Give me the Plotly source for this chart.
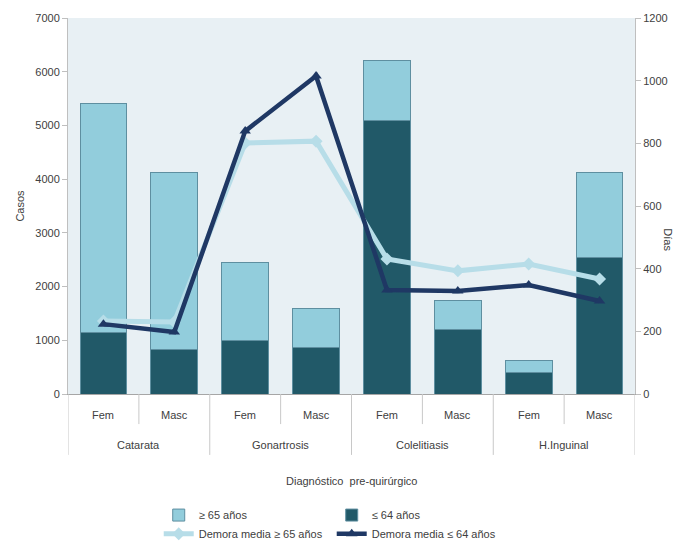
import plotly.graph_objects as go

groups = ["Catarata", "Gonartrosis", "Colelitiasis", "H.Inguinal"]
sexes = ["Fem", "Masc", "Fem", "Masc", "Fem", "Masc", "Fem", "Masc"]

casos_le64 = [1150, 820, 1000, 870, 5100, 1200, 400, 2540]
casos_ge65 = [4250, 3310, 1450, 730, 1100, 550, 230, 1590]
demora_ge65 = [233, 230, 801, 807, 431, 393, 415, 367]
demora_le64 = [223, 198, 839, 1015, 332, 329, 348, 297]

xs = list(range(len(sexes)))
font = "Liberation Sans Narrow, Liberation Sans, sans-serif"
txt = "#404040"
div_col = "#C8C8C8"

fig = go.Figure()
fig.add_trace(go.Bar(x=xs, y=casos_le64, name="≤ 64 años",
                     marker=dict(color="#215968", line=dict(color="#5E8FA0", width=1)),
                     legend="legend", legendrank=2))
fig.add_trace(go.Bar(x=xs, y=casos_ge65, name="≥ 65 años",
                     marker=dict(color="#92CDDC", line=dict(color="#5E8FA0", width=1)),
                     legend="legend", legendrank=1))
fig.add_trace(go.Scatter(x=xs, y=demora_ge65, name="Demora media ≥ 65 años", yaxis="y2",
                         mode="lines+markers", line=dict(color="#B7DDE8", width=5),
                         marker=dict(symbol="diamond", size=10, color="#B7DDE8"),
                         legend="legend2", legendrank=1))
fig.add_trace(go.Scatter(x=xs, y=demora_le64, name="Demora media ≤ 64 años", yaxis="y2",
                         mode="lines+markers", line=dict(color="#1F3864", width=4.5),
                         marker=dict(symbol="triangle-up", size=10, color="#1F3864"),
                         legend="legend2", legendrank=2))

# x-axis category labels and dividers (drawn in data coordinates of the x axis)
annotations = []
shapes = []
for i, s in enumerate(sexes):
    annotations.append(dict(text=s, x=i, xref="x", y=-0.056, yref="paper", showarrow=False,
                            yanchor="middle", font=dict(size=11, color=txt)))
for g, name in enumerate(groups):
    annotations.append(dict(text=name, x=2 * g + 0.5, xref="x", y=-0.136, yref="paper",
                            showarrow=False, yanchor="middle", font=dict(size=11, color=txt)))
    shapes.append(dict(type="line", xref="x", yref="paper", x0=2 * g + 0.5, x1=2 * g + 0.5,
                       y0=0, y1=-0.08, line=dict(color=div_col, width=1)))
for b in range(len(groups) + 1):
    xb = 2 * b - 0.5
    shapes.append(dict(type="line", xref="x", yref="paper", x0=xb, x1=xb,
                       y0=0, y1=-0.162, line=dict(color=div_col, width=1)))
annotations.append(dict(text="Diagnóstico  pre-quirúrgico", x=0.5, xref="paper", y=-0.231,
                        yref="paper", showarrow=False, yanchor="middle",
                        font=dict(size=11, color=txt)))
annotations.append(dict(text="Días", xref="paper", yref="paper", x=1.045, y=0.41,
                        showarrow=False, textangle=90, font=dict(size=11, color=txt),
                        xanchor="left", yanchor="middle"))

fig.update_layout(
    width=678, height=541,
    margin=dict(l=68, r=43, t=18, b=147, autoexpand=False),
    barmode="stack", bargap=0.34,
    plot_bgcolor="#E8F0F4", paper_bgcolor="white",
    font=dict(family=font, size=11, color=txt),
    xaxis=dict(range=[-0.5, 7.5], showticklabels=False, showline=True, linecolor="#A6A6A6",
               showgrid=False, zeroline=False, ticks=""),
    yaxis=dict(range=[0, 7000], dtick=1000, showgrid=False, showline=True, linecolor="#BFBFBF",
               ticks="outside", ticklen=5, tickcolor="#BFBFBF", zeroline=False,
               title=dict(text="Casos", font=dict(size=11, color=txt), standoff=8)),
    yaxis2=dict(range=[0, 1200], dtick=200, overlaying="y", side="right", showgrid=False,
                showline=True, linecolor="#BFBFBF", ticks="outside", ticklen=5,
                tickcolor="#BFBFBF", zeroline=False),
    legend=dict(orientation="h", x=0.16, y=-0.322, xanchor="left", yanchor="middle",
                entrywidth=128, traceorder="normal", font=dict(size=11, color=txt),
                itemwidth=30, bgcolor="rgba(0,0,0,0)"),
    legend2=dict(orientation="h", x=0.16, y=-0.372, xanchor="left", yanchor="middle",
                 entrywidth=128, traceorder="normal", font=dict(size=11, color=txt),
                 itemwidth=30, bgcolor="rgba(0,0,0,0)"),
    annotations=annotations,
    shapes=shapes,
)

fig.write_html("out.html")
